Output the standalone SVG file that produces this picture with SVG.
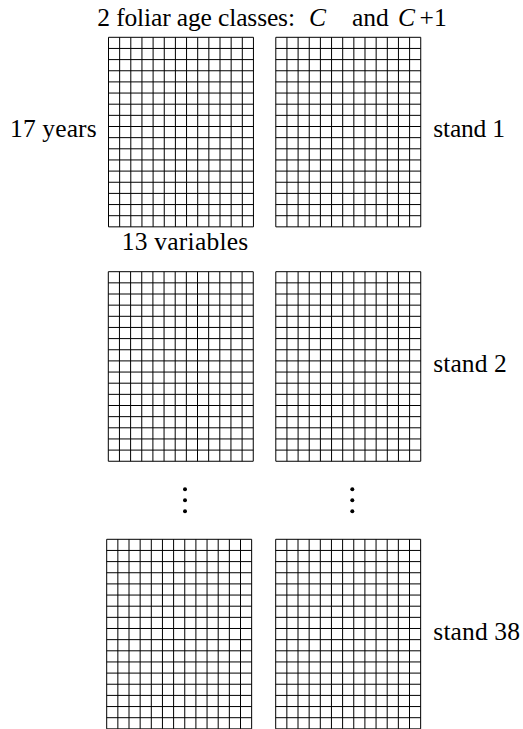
<svg xmlns="http://www.w3.org/2000/svg" xmlns:xlink="http://www.w3.org/1999/xlink" width="523" height="729" viewBox="0 0 523 729">
<style>
text{font-family:"Liberation Serif","Times New Roman",serif;font-size:25.5px;fill:#000}
.it{font-style:italic}
.grid{fill:none;stroke:#000;stroke-width:1}
.dot{fill:#000}
</style>
<defs>
<path id="grid" class="grid" d="M0 0V189.55M11.15 0V189.55M22.3 0V189.55M33.45 0V189.55M44.6 0V189.55M55.75 0V189.55M66.9 0V189.55M78.05 0V189.55M89.2 0V189.55M100.35 0V189.55M111.5 0V189.55M122.65 0V189.55M133.8 0V189.55M144.95 0V189.55M0 0H144.95M0 11.15H144.95M0 22.3H144.95M0 33.45H144.95M0 44.6H144.95M0 55.75H144.95M0 66.9H144.95M0 78.05H144.95M0 89.2H144.95M0 100.35H144.95M0 111.5H144.95M0 122.65H144.95M0 133.8H144.95M0 144.95H144.95M0 156.1H144.95M0 167.25H144.95M0 178.4H144.95M0 189.55H144.95"/>
</defs>
<g id="title">
<text y="26"><tspan x="97.3" textLength="197.7" lengthAdjust="spacing">2 foliar age classes:</tspan><tspan x="309" class="it">C</tspan><tspan x="352">and</tspan><tspan x="398" class="it">C</tspan><tspan x="419.5">+1</tspan></text>
</g>
<g id="label-years"><text x="10" y="137.3" textLength="86.7" lengthAdjust="spacing">17 years</text></g>
<g id="label-variables"><text x="121.7" y="250" textLength="126.6" lengthAdjust="spacing">13 variables</text></g>
<g id="label-stand1"><text x="433.3" y="137.3" textLength="71.7" lengthAdjust="spacing">stand 1</text></g>
<g id="label-stand2"><text x="433.3" y="371.7" textLength="73.4" lengthAdjust="spacing">stand 2</text></g>
<g id="label-stand38"><text x="433.3" y="640" textLength="86.7" lengthAdjust="spacing">stand 38</text></g>
<g id="stand1-C"><use xlink:href="#grid" href="#grid" transform="translate(108.5 37.3)"/></g>
<g id="stand1-C1"><use xlink:href="#grid" href="#grid" transform="translate(275.8 37.3)"/></g>
<g id="stand2-C"><use xlink:href="#grid" href="#grid" transform="translate(108.3 271.7)"/></g>
<g id="stand2-C1"><use xlink:href="#grid" href="#grid" transform="translate(275.8 271.7)"/></g>
<g id="stand38-C"><use xlink:href="#grid" href="#grid" transform="translate(106.7 539.3)"/></g>
<g id="stand38-C1"><use xlink:href="#grid" href="#grid" transform="translate(275.7 539.3)"/></g>
<g id="ellipsis-left"><circle class="dot" cx="185" cy="489.3" r="2"/><circle class="dot" cx="185" cy="500.3" r="2"/><circle class="dot" cx="185" cy="511.3" r="2"/></g>
<g id="ellipsis-right"><circle class="dot" cx="352.3" cy="489.3" r="2"/><circle class="dot" cx="352.3" cy="500.3" r="2"/><circle class="dot" cx="352.3" cy="511.3" r="2"/></g>
<g id="connectors"></g>
</svg>
